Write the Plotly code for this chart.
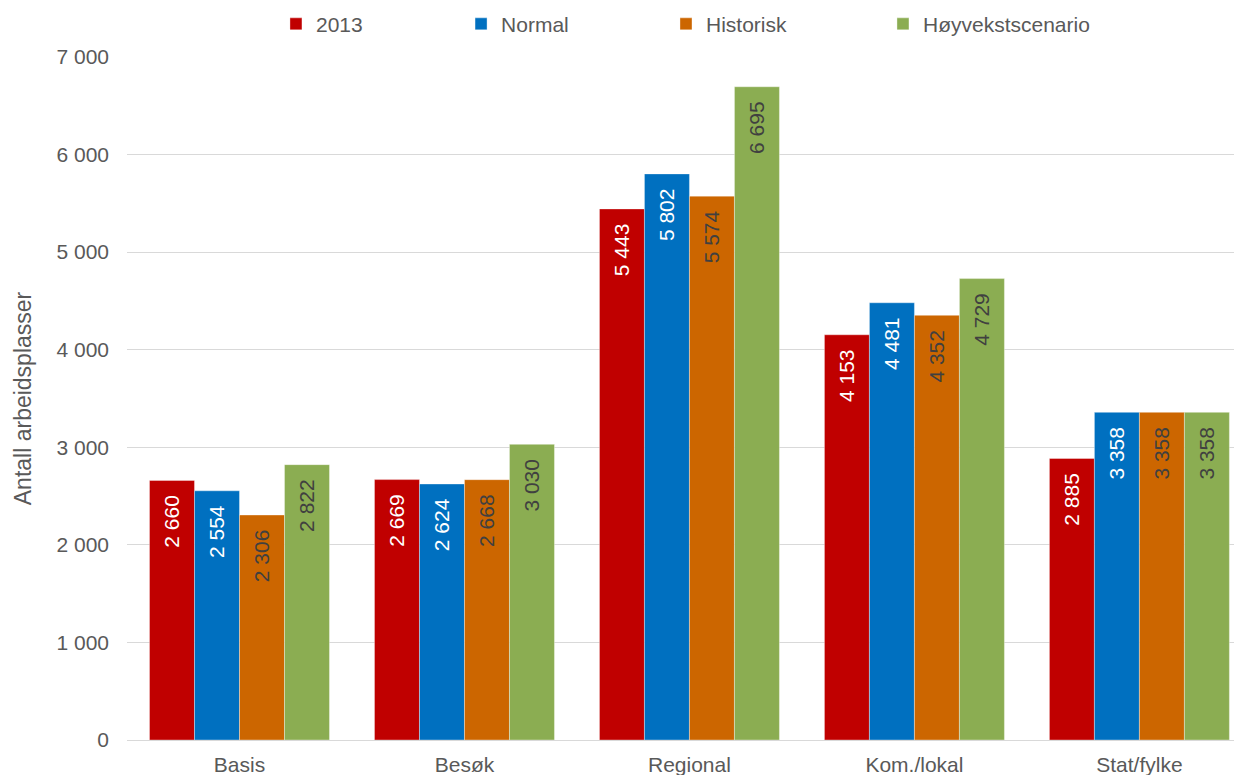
import plotly.graph_objects as go

categories = ["Basis", "Besøk", "Regional", "Kom./lokal", "Stat/fylke"]
series_names = ["2013", "Normal", "Historisk", "Høyvekstscenario"]
v2013 = [2660, 2669, 5443, 4153, 2885]
vNormal = [2554, 2624, 5802, 4481, 3358]
vHistorisk = [2306, 2668, 5574, 4352, 3358]
vHoy = [2822, 3030, 6695, 4729, 3358]
y_ticks = [0, 1000, 2000, 3000, 4000, 5000, 6000, 7000]
y_tick_labels = ["0", "1 000", "2 000", "3 000", "4 000", "5 000", "6 000", "7 000"]

colors = ["#C00000", "#0070C0", "#CC6600", "#8BAD52"]
text_colors = ["white", "white", "#404040", "#404040"]
values = [v2013, vNormal, vHistorisk, vHoy]
legend_x = [0.1336, 0.2996, 0.4834, 0.6780]
legend_ids = ["legend", "legend2", "legend3", "legend4"]
FONT = "Liberation Sans, Arial, sans-serif"

def fmt(v):
    return f"{v:,}".replace(",", " ") + "\u00a0\u00a0"

fig = go.Figure()
for name, vals, c, tc, lid in zip(series_names, values, colors, text_colors, legend_ids):
    fig.add_trace(go.Bar(
        x=categories, y=vals, name=name, legend=lid, showlegend=True,
        marker=dict(color=c, line=dict(color="rgba(255,255,255,0.6)", width=0.6)),
        text=[fmt(v) for v in vals],
        textposition="inside", insidetextanchor="end", textangle=-90,
        textfont=dict(color=tc, size=21, family=FONT),
        cliponaxis=False,
    ))

legend_common = dict(orientation="h", xanchor="left", y=1.048, yanchor="middle",
                     font=dict(size=21, color="#595959"), itemwidth=30,
                     bgcolor="rgba(0,0,0,0)")
layout_legends = {lid: dict(x=lx, **legend_common) for lid, lx in zip(legend_ids, legend_x)}

fig.update_layout(
    width=1242, height=775,
    margin=dict(l=119, r=8, t=49, b=43, autoexpand=False),
    barmode="group", bargap=0.2, bargroupgap=0,
    plot_bgcolor="white", paper_bgcolor="white",
    font=dict(family=FONT, color="#595959", size=21),
    showlegend=True,
    **layout_legends,
)
fig.update_yaxes(range=[0, 7000], tickvals=y_ticks, ticktext=y_tick_labels,
                 showgrid=True, gridcolor="#D9D9D9", gridwidth=1, zeroline=False,
                 ticks="", ticklabelstandoff=17, tickfont=dict(size=21, color="#595959"),
                 title=dict(text="Antall arbeidsplasser", font=dict(size=23, color="#595959"), standoff=18))
fig.update_xaxes(range=[-0.5, 4.456], showline=True, linecolor="#D9D9D9", linewidth=1,
                 ticks="", ticklabelstandoff=6, tickfont=dict(size=21, color="#595959"), showgrid=False)

fig.write_html("out.html")
